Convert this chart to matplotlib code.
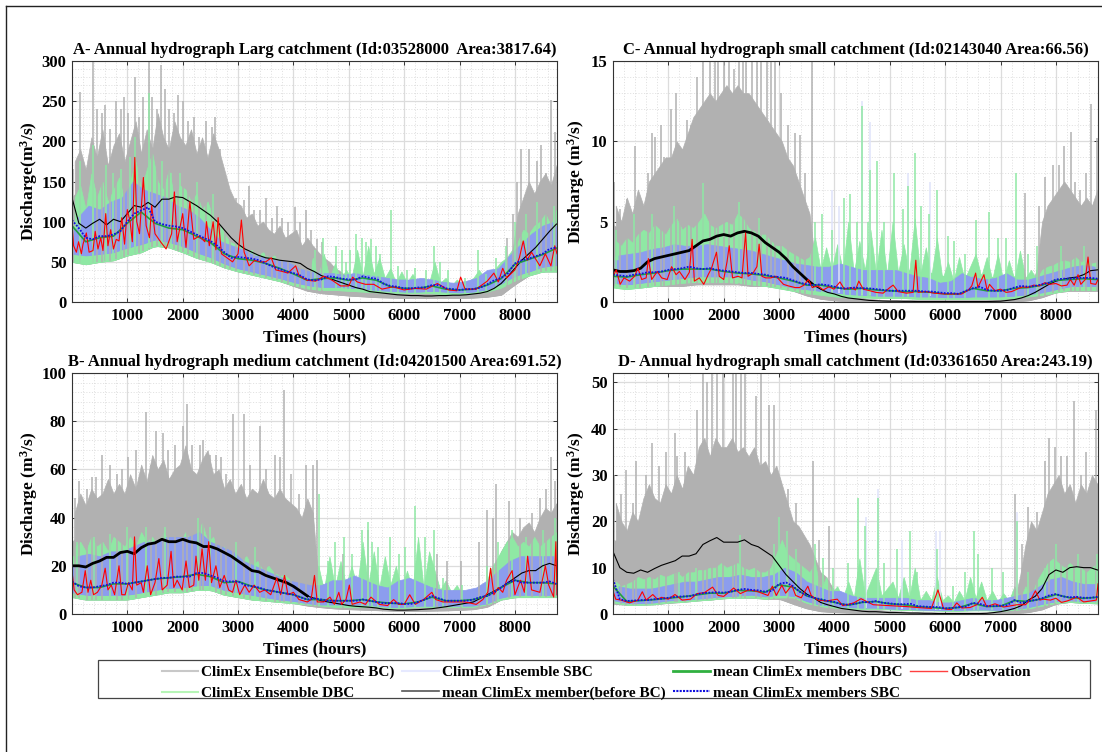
import matplotlib
matplotlib.use("Agg")
import matplotlib.pyplot as plt
from matplotlib.lines import Line2D
from matplotlib.patches import Rectangle
from matplotlib.ticker import MultipleLocator
import numpy as np

plt.rcParams["font.family"] = ["Liberation Serif", "DejaVu Serif"]
plt.rcParams["font.weight"] = "bold"
plt.rcParams["mathtext.fontset"] = "custom"
plt.rcParams["mathtext.rm"] = "Liberation Serif:bold"
plt.rcParams["mathtext.bf"] = "Liberation Serif:bold"
plt.rcParams["mathtext.default"] = "bf"

# envelopes are read every 250 h, mean lines every 125 h
band_hours = np.arange(0, 8751, 250)
mean_hours = np.arange(0, 8751, 125)
# rough upper edge of the ensembles, read every 100 h (gray, green) and 200 h (blue)
rough_hours = np.arange(50, 8751, 100)
blue_rough_hours = np.arange(100, 8701, 200)

# ---------- panel A
a_gray_top = [130,150,150,150,160,170,170,160,165,160,150,110,90,75,70,62,60,52,35,28,22,18,16,14,12,11,11,11,11,12,14,20,50,95,105,120]
a_gray_low = [50,47,50,52,58,62,70,68,62,55,50,43,38,34,30,26,20,14,11,9.5,8,7,6,5.5,5,5,5,5,5,5.5,6.5,9,22,33,38,38]
a_green_top = [85,105,110,105,120,135,120,110,110,98,80,68,58,54,50,46,40,33,30,28,26,28,26,25,24,24,24,22,22,22,26,36,60,75,85,98]
a_green_low = [50,47,50,52,58,62,70,68,62,55,50,43,38,34,30,26,21,17,15,15,14,13,12,12,11,11,11,10,10,11,13,18,27,33,38,38]
a_blue_top = [90,95,105,100,118,140,120,110,105,95,85,68,58,52,48,45,38,32,30,30,28,28,26,24,22,22,24,22,20,22,25,35,52,70,82,95]
a_blue_low = [60,58,60,62,68,72,78,75,70,62,56,48,42,38,34,30,25,21,19,19,18,17,15,14,13,13,14,13,12,13,16,23,33,38,44,46]
a_gray_rough = [175,190,165,205,180,215,170,195,210,175, 200,225,185,215,190,235,205,190,225,205, 195,215,185,205,180,210,190,165,140,125,
                120,105,110,95,100,90,85,95,80,85, 90,70,80,70,62,55,50,42,38,32, 28,25,22,20,18,16,14,14,13,12,
                12,12,11,11,11,11,11,11,11,11, 11,11,12,13,14,16,18,22,32,60, 110,130,150,135,150,160,145,170]
a_green_rough = [130,145,115,160,130,150,125,140,155,125, 150,175,140,165,185,150,140,165,130,145, 140,125,135,115,125,105,100,85,75,72,
                 68,62,65,58,62,55,58,52,50,48, 30,42,28,55,32,60,30,48,28,40, 30,65,32,70,35,55,30,42,24,38,
                 24,35,22,30,24,50,24,30,20,28, 22,25,30,40,30,35,42,50,55,65, 75,90,85,95,100,110,95,115]
a_blue_rough = [105,120,115,125,130,150,140,135,130,120,115,105,90,75,70,65, 58,55,52,50,42,38,36,36,34,36,34,32,30,28,28,30,28,25,24,26,30,40, 42,58,72,85,95,100]
a_gray_spike_h = [20,150,380,450,540,600,690,790,880,940,1020,1130,1210,1290,1390,1450,1540,1610,1680,1760,1850,1920,2010,2090,2200,2300,2430,2530,2590,2680,2770,2850,2960,3100,3200,3290,3390,3500,3610,3700,3800,3900,4030,4120,4230,4310,4420,4520,7860,7960,8040,8110,8250,8400,8480,8570,8650,8730]
a_gray_spike_q = [165,262,300,240,235,245,215,250,240,255,235,280,230,255,300,255,240,295,265,240,235,258,250,225,230,205,225,218,230,190,150,135,130,127,145,115,115,130,105,120,105,100,118,100,115,90,78,75,80,110,150,190,190,175,195,160,252,212]
a_green_spike_h = [150,380,620,750,890,1050,1130,1400,1620,1780,1950,2250,2540,4390,4540,4760,4870,4950,5020,5130,5230,5310,5400,5500,5570,5760,5880,6050,6200,6400,6540,6650,6800,7100,7330,7470,7650,7830,8000,8200,8400,8700]
a_green_spike_q = [175,195,170,160,165,180,205,260,175,160,160,150,135,65,80,70,65,50,65,85,80,75,78,70,60,115,45,40,42,40,70,50,40,30,65,35,55,70,100,110,125,120]
a_black = [130,98,92,98,103,96,103,100,110,120,118,124,118,128,128,131,130,125,120,114,108,100,90,80,72,66,62,58,55,54,52,51,50,48,42,38,33,30,27,24,21,18,16,13,12,11,10,9,8.5,8,8,7.5,7.5,8,8,8.5,8.5,9,10,11,13,17,23,32,42,52,60,68,78,88,97]
a_sbc = [102,92,80,78,82,82,84,88,100,110,114,118,100,97,95,94,92,88,84,80,76,70,62,55,56,55,54,52,48,44,41,38,36,33,28,27,28,32,31,29,28,28,32,30,29,23,20,19,17,17,18,18,21,21,17,16,15,16,16,18,22,27,30,36,48,52,54,57,60,66,68]
a_dbc = [95,75,80,82,98,112,98,92,90,82,74,60,54,52,48,42,35,27,29,30,27,30,27,19,17,17,20,16,15,16,21,29,47,53,59,67]
a_obs_h = [0,30,80,120,170,200,260,310,380,420,470,520,560,610,650,700,750,800,850,900,950,1000,1050,1090,1135,1170,1220,1290,1340,1400,1440,1500,1600,1700,1800,1850,1900,2000,2060,2130,2200,2300,2400,2430,2480,2550,2600,2640,2700,2800,2900,3000,3060,3110,3200,3300,3400,3500,3600,3680,3800,3900,4040,4100,4250,4400,4550,4700,4850,5000,5070,5150,5300,5450,5600,5800,6000,6200,6400,6600,6800,6950,7020,7100,7300,7500,7620,7700,7780,7850,8000,8080,8150,8220,8300,8450,8550,8650,8720,8760]
a_obs_q = [97,70,62,75,60,72,86,62,64,88,66,80,64,110,70,90,66,78,76,105,72,115,100,75,180,100,85,155,95,80,120,85,75,66,85,137,75,110,68,125,78,82,75,100,70,100,65,105,60,55,50,60,102,62,45,52,50,50,55,40,38,36,45,33,27,26,32,27,20,20,31,25,22,22,16,19,15,17,16,23,15,14,31,16,16,26,36,25,42,30,40,55,76,52,62,45,60,45,70,60]

# ---------- panel B
b_gray_top = [30,35,35,38,40,44,46,48,48,48,46,42,38,35,33,32,29,25,8,5,4,4,3,3,3,3,3,3,4,4,5,8,16,24,28,32]
b_gray_low = [7,6,6,6,6,7,8,9,9,10,10,8,7,6,5.5,5,4.5,3.5,2.8,2.3,2,1.8,1.6,1.4,1.3,1.3,1.4,1.5,1.7,2,3,6,7,7,7,7]
b_green_top = [24,24,24,24,24,26,26,26,26,27,24,22,19,17,15,14,12,10,10,11,11,12,12,10,10,12,11,8,8,8,10,16,24,24,24,24]
b_green_low = [7,6,6,6,6,7,8,9,9,10,10,8,7,6,5.5,5,4.5,4,3.5,3,3,3,3,2.5,2.5,3,3,3,3,3,4,6,7,7,7,7]
b_blue_top = [20,20,20,20,22,24,26,28,28,28,25,22,19,16,14,12,11,9,9,9,9,11,10,9,8,10,11,8,8,8,10,15,20,20,20,20]
b_blue_low = [9,8,8,8,8,9,10,11,11,12,12,10,9,8,7,6,5.5,4.5,4,4,4,4,3.5,3,3,3.5,3.5,3.5,3.5,3.5,4.5,7,8,8,8,8]
b_gray_rough = [42,50,45,52,48,50,56,50,54,50, 58,52,62,55,66,60,64,56,60,62, 70,60,58,64,68,58,60,52,56,50,
                54,48,52,50,56,50,48,52,48,46, 44,40,48,42,14,12,14,10,9,8, 8,10,12,10,7,8,6,7,5,6,
                5,6,5,8,7,5,6,5,5,5, 6,5,6,8,10,14,20,26,30,34, 32,36,38,34,40,44,42,46]
b_green_rough = [28,30,26,32,28,30,26,32,30,28, 32,28,34,30,32,28,34,30,32,30, 34,30,32,38,30,32,26,28,24,22,
                 22,24,20,22,18,20,17,16,16,14, 12,10,12,9,20,10,24,11,22,12, 20,11,30,12,26,11,24,12,20,10,
                 18,10,32,11,26,18,10,14,9,12, 8,10,8,12,10,18,22,26,30,32, 28,30,28,32,28,30,32,34]
b_blue_rough = [24,25,24,26,26,28,30,30,32,32,32,34,30,28,26,22, 20,18,16,14,13,12,12,14,14,16,14,12,11,14,15,13,11,10,10,10,11,14, 18,22,24,24,24,24]
b_gray_spike_h = [60,130,270,370,440,550,680,810,900,1010,1160,1330,1420,1520,1650,1740,1870,2010,2070,2170,2310,2370,2490,2600,2700,2780,2910,3100,3210,3400,3500,3660,3760,3830,3950,4100,4230,4350,4430,4900,5340,6600,6770,7030,7360,7490,7610,7660,7900,8100,8300,8450,8560,8660,8730]
b_gray_spike_q = [48,55,52,57,57,66,62,58,60,65,68,84,62,76,75,68,70,78,87,70,70,72,66,66,65,58,83,83,62,78,60,66,65,93,58,50,62,62,64,25,35,25,22,22,30,43,40,54,47,40,42,48,52,65,55]
b_green_spike_h = [100,400,680,1000,1340,1680,2280,2500,2960,3300,4460,4620,4750,4910,5060,5240,5340,5420,5520,5740,5900,6020,6200,6370,6530,6700,7050,7500,7700,7950,8200,8500,8720]
b_green_spike_q = [30,32,33,36,36,36,40,36,30,28,50,22,30,32,25,35,38,30,28,32,25,28,45,32,35,15,12,20,30,35,32,35,40]
b_black = [20,20,19.5,21,22,23.5,23.5,25.5,26,25,27.5,29,29.5,31,30,30,31,30,29.5,28,28,27,25.5,24,22,20,18,17.5,16,15,14,13,11.5,9.5,7.5,6.5,5.5,5,4.5,4,3.5,3.2,3,2.8,2.5,2,1.8,1.6,1.6,1.7,1.8,2,2.2,2.6,3,3.5,4,4.5,5,6.5,8,9.5,11,13,15,17,18,18,20,21,20]
b_sbc = [13.5,11.5,11,11,11.5,12,13,13,12.5,13,13.5,14,14.5,15,15,15.5,15.5,15.5,17,17,16,15,13.5,13.5,13.5,12,11.5,11,10,9.5,9,8.5,8,7,6,6.5,6,5.5,5.5,5.5,5.5,5.5,6,5.5,5,4.5,4.5,4.5,4.2,4.2,5,6,7.5,6.5,5.5,5.5,5.5,5.5,6,7,7.5,9,11,13,14,13,13,13,13,13.5,12.5]
b_dbc = [13,11,11,12.5,12.5,13.5,14.5,15,15.5,16.5,15.5,13,13.5,11.5,10,9,8,6,6,5.5,5.5,6,5,4.5,4.2,5,7,5.5,5.5,6,7.5,11,14,13,13,12.5]
b_obs_h = [0,40,100,180,240,290,340,390,460,540,600,650,710,770,850,900,960,1020,1090,1130,1170,1250,1290,1360,1400,1420,1500,1570,1630,1720,1790,1840,1900,1990,2060,2120,2200,2240,2290,2350,2410,2470,2520,2600,2670,2750,2830,2900,2960,3030,3120,3200,3290,3390,3480,3590,3700,3770,3840,3900,4000,4100,4250,4320,4380,4430,4550,4660,4740,4820,4870,4950,5010,5060,5200,5300,5400,5550,5700,5810,5900,6000,6100,6200,6350,6500,6570,6700,6900,7100,7300,7420,7510,7560,7620,7700,7780,7850,7950,8000,8100,8170,8230,8300,8450,8550,8610,8700,8740,8760]
b_obs_q = [18,10,8,9,18,9,14,8,9,12,19,10,12,8,20,8,8,13,10,32,12,13,9,20,12,8,13,23,10,12,26,11,14,10,22,11,12,24,14,27,14,30,13,20,11,16,10,9,14,8,12,9,12,9,10,8,15,8,16,8,9,6,5,6,16,5,5,7,4,9,4,6,12,4,5,4,7,4,3.5,6,4,4,8,4,6,9,6,5,5,5,4,6,9,19,8,11,9,14,18,8,14,9,24,10,9,20,12,7,30,8]

# ---------- panel C
c_gray_top = [4.8,4.2,5,6,6.5,6.8,7.5,9.5,10,10.5,10,8.5,7.5,6,4.2,1,.6,.4,.25,.15,.1,.1,.1,.1,.1,.1,.1,.1,.1,.2,.3,1.5,4,4.5,4.5,5]
c_gray_low = [1,.9,.9,1,1,1,1.1,1.1,1.1,1.1,1,1,.9,.7,.4,.2,.1,.05,.03,.02,0,0,0,0,0,0,0,0,0,.05,.1,.3,.6,.7,.7,.7]
c_green_top = [2.8,3,3.2,3.4,3.6,3.8,3.8,3.7,3.7,3.9,3.6,3.2,2.9,2.6,2.4,2.2,2,1.9,1.9,2,2,2,1.9,1.8,1.6,1.3,1.9,1.6,1.5,1.6,1.5,1.4,1.9,2.1,2,1.9]
c_green_low = [.9,.8,.9,1,1.1,1.2,1.25,1.25,1.25,1.2,1.1,1,.85,.7,.55,.45,.35,.3,.3,.25,.25,.25,.2,.2,.2,.2,.2,.2,.2,.25,.35,.45,.6,.75,.75,.75]
c_blue_top = [2.6,2.6,2.8,3,3.1,3.2,3.2,3.1,3.1,3.3,3,2.7,2.5,2.2,1.8,2.1,1.7,1.6,1.5,1.5,1.5,1.5,1.3,1.2,1.1,1,1.6,1.3,1.2,1.3,1.3,1.3,1.7,2,2.1,2]
c_blue_low = [1.2,1.1,1.2,1.3,1.4,1.5,1.6,1.6,1.6,1.6,1.4,1.3,1.1,.9,.8,.7,.6,.5,.45,.4,.4,.4,.35,.35,.3,.3,.35,.35,.35,.4,.5,.6,.8,1,1,1]
c_gray_rough = [6,5,6.5,5.5,7,6,7.5,8,8.5,9, 9,10,9.5,10.5,11.5,12,12.5,13,12.5,13, 13.5,13,13.5,13,13,12.5,12,11.5,11,10.5,
                10,9,8.5,7.5,6.5,5.5,2.5,1.2,.8,.7, .5,.4,.35,.3,.25,.2,.15,.15,.1,.1, .1,.1,.1,.1,.1,.1,.1,.1,.1,.1,
                .1,.1,.1,.1,.1,.1,.1,.1,.1,.15, .2,.25,.3,.4,.6,.9,2,5,6,6.5, 7,7.5,7,6.5,6,6.5,6,7]
c_green_rough = [3.8,3.5,4,3.7,4.2,4.5,4.3,4.8,4.5,4.2, 4.8,5.2,4.5,4.8,4.6,5,5.5,4.8,4.6,4.8, 5,4.8,5.5,5.2,4.6,4.4,4.2,4.2,3.8,3.5,
                 3.5,3.2,3,2.8,2.6,2.8,4,2,3.4,2, 3.6,2,5,1.8,3.8,2,4.5,1.8,4.5,1.7, 5,1.8,3.6,1.8,5.2,1.7,3.4,1.6,4,1.4,
                 2.5,1.3,2.8,1.4,2.2,3,1.6,2.8,1.4,3, 1.3,2.6,1.4,3.2,1.5,2,1.4,2,2.2,2.3, 2.5,2.6,2.5,2.8,2.5,2.6,2.4,2.5]
c_blue_rough = [2.9,3,3.1,3.3,3.4,3.6,3.5,3.5,3.6,3.5,3.4,3.3,3.2,3,2.8,2.6, 2.4,2.3,2.2,2.2,2.4,2.2,2,2,2,2,1.8,1.6,1.5,1.2,1.3,1.8,1.5,1.4,1.5,1.8,1.4,1.4, 1.6,1.8,2,2.2,2.3,2.2]
c_gray_spike_h = [20,120,260,390,480,640,700,760,860,930,1040,1130,1210,1330,1410,1510,1630,1760,1850,1900,2010,2090,2180,2270,2350,2410,2520,2610,2680,2780,2860,2930,3030,3170,3280,3380,3470,3600,7450,7700,7800,7950,8060,8150,8270,8350,8430,8550,8640,8740]
c_gray_spike_q = [7.5,5.8,6.4,9.7,5.4,8,10.5,10.3,11,9,12,13,9.5,11.3,11,14,15,15,15,15,15,15,14.5,15,15,15,15,15,15,15,15,15,13,11,10.5,10.4,8,15,6.8,6,7.8,8.5,8.5,9.7,10.6,7.5,7,8,12.3,10.2]
c_green_spike_h = [50,380,700,1100,1620,2280,2640,3650,3780,3950,4170,4290,4400,4500,4600,4640,4760,4900,5080,5240,5330,5460,5560,5700,5860,6050,6160,6350,6550,6800,6950,7100,7280,7500,7650,8100,8500]
c_green_spike_q = [4.5,5.5,5.5,6,7.4,6.2,5.2,5,5.5,4.5,6.5,6.7,5,12.2,5,8.2,8.8,5,8,5.8,7.2,9.3,6,5.5,7,4.1,3.8,3,5.1,5.6,4,4,8,3,3.5,3.5,3.5]
c_sbc_spike_h = [3950,4090,4500,4640,5330,5730]
c_sbc_spike_q = [7,6,12.5,11.2,8,7.5]
c_black = [2,1.9,1.9,1.95,2.1,2.5,2.7,2.8,2.9,3,3.1,3.2,3.5,3.8,3.9,4.1,4.2,4.1,4.3,4.4,4.3,4.1,3.7,3.4,3.1,2.7,2.2,1.8,1.4,1.05,.8,.6,.5,.35,.25,.2,.15,.1,.08,.06,.05,.05,.04,.04,.03,.03,.03,.03,.03,.03,.03,.03,.03,.03,.03,.04,.05,.1,.15,.25,.4,.6,.85,1.1,1.3,1.4,1.5,1.55,1.7,1.95,2]
c_sbc = [1.7,1.65,1.6,1.7,1.75,1.85,1.85,1.9,2,2.05,2.1,2.2,2.1,2.05,2.1,2,1.95,1.9,1.85,1.8,1.8,1.75,1.7,1.6,1.55,1.5,1.35,1.2,1.1,1.05,1.1,1.05,.95,.85,.85,.9,.85,.85,.8,.75,.7,.7,.7,.7,.7,.65,.65,.6,.55,.55,.5,.7,.85,.95,.75,.7,.7,.75,.9,1,.95,1,1.1,1.2,1.4,1.45,1.45,1.5,1.5,1.5,1.45]
c_dbc = [1.6,1.55,1.7,1.8,1.95,2.05,2.05,2.05,1.9,1.8,1.75,1.65,1.5,1.3,1.05,1.05,.9,.8,.85,.75,.7,.65,.65,.6,.5,.5,.85,.7,.7,.85,.9,1.05,1.35,1.4,1.45,1.4]
c_obs_h = [0,60,130,200,300,390,450,520,600,640,700,800,880,980,1060,1140,1200,1300,1380,1430,1470,1560,1640,1720,1780,1870,1920,2000,2060,2100,2160,2260,2330,2395,2440,2530,2600,2640,2690,2760,2850,2950,3000,3080,3170,3290,3370,3450,3530,3600,3700,3800,3900,3990,4100,4180,4300,4380,4440,4520,4640,4750,4880,5000,5060,5150,5300,5420,5470,5510,5650,5800,6000,6150,6300,6420,6480,6550,6590,6700,6760,6800,6900,7000,7100,7200,7300,7400,7480,7600,7700,7800,7880,8000,8100,8200,8260,8330,8400,8450,8530,8580,8630,8720,8760]
c_obs_q = [1.6,2,1.1,1.5,1.3,1.6,2.1,1.4,1.5,2.7,1.4,1.9,1.5,1.4,2.2,1.7,1.9,1.4,1.85,3.9,1.3,1.5,1.1,1.7,2.1,3.1,1.6,1.4,2.5,3.5,1.5,1.6,1.5,4.3,1.6,1.8,2.2,3.6,1.6,1.5,1.5,1.6,1.4,1.1,1,.9,.9,1.05,1.4,.9,1,.75,.95,.8,1.25,.8,.9,.75,1.3,.8,.7,.6,.55,.9,1.05,.65,.55,.6,2.6,.6,.65,.55,.5,.5,.5,.75,1,1.8,.9,1.7,.7,1.1,.7,.8,.6,.65,.8,.95,.9,1.05,1,1.2,1.1,1.15,1,1.05,1.4,1.05,1.7,1.1,1.4,2.8,1.15,1.1,1.4]

# ---------- panel D
d_gray_top = [16,15,15,17,18,20,23,25,26,26,25,23,19,14,10,4,2.5,1.3,1,.8,.6,.5,.4,.3,.3,.3,.3,.3,.4,1,11,15,21,19,17,19]
d_gray_low = [2.2,2,2,2.1,2.4,2.6,2.9,3.1,3.4,3.5,3.5,3.3,3.3,2.2,1.2,.6,.4,.3,.2,.2,.1,.1,.1,.1,.1,.1,.1,.1,.1,.2,.4,1,2.2,2.6,2.4,2.3]
d_green_top = [5,4.6,4.6,5,5.4,5.8,6.2,6.6,7,7,7,6.6,9,7.5,5,4.2,4,3.4,3.4,3.8,3.2,3.2,3.2,3.2,2.6,2.6,3.2,2.6,2.6,3,3.4,4.6,6.5,7,6.5,7]
d_green_low = [2.5,2,2,2.1,2.5,2.6,2.9,3.1,3.4,3.5,3.6,3.3,3.6,3.6,2.4,1.7,1.4,1.2,1.1,1.1,1,.9,.8,.8,.7,.7,.8,.8,.7,.9,1.2,1.8,2.4,2.6,2.4,2.3]
d_blue_top = [5,4.4,4.5,4.6,5,5.5,6,6.2,6.5,7,7,6.8,8.5,7.5,5,4,4,3,3,3,3,3,2.5,2.5,2.2,2,2.5,2.5,2.2,2.5,3,4,6,6.5,5.5,5.5]
d_blue_low = [3,2.4,2.4,2.5,3,3,3.3,3.6,3.8,4,4.2,3.8,4.2,4,2.8,2,1.8,1.5,1.4,1.4,1.2,1.1,1,.9,.9,.9,1,1,.9,1.1,1.5,2.2,2.8,3,2.8,2.8]
d_gray_rough = [24,20,18,22,20,25,28,25,24,28, 26,30,27,32,30,36,38,34,38,36, 36,38,35,36,34,36,32,33,30,32,
                28,24,20,19,17,15,12,9,8,6, 4,3.5,2.5,2,1.5,1.2,1,.9,.8,.7, .6,.5,.5,.4,.4,.3,.3,.3,.3,.3,
                .3,.3,.3,.3,.3,.3,.3,.3,.3,.4, .6,1,3,8,15,20,18,22,26,28, 30,26,28,24,28,26,30,28]
d_green_rough = [7,6,6.5,7,8,7.5,8,7.5,8.5,8, 8.5,9,8,9,9,9.5,9.5,10,10,11, 10,10.5,11,10,9.5,10,9,9,10,13,
                 16,13,12,11,10,9,11,5,8,4.5, 6,3.5,7,3.5,12,4,7,10,4,5.5, 7,3.5,8,3.5,10,3,5,3,8,3,
                 4,2.5,5,3,8,3.5,7,3,5,2.7, 4.5,2.8,6,3.2,6,3.5,7,9,11,12, 11,10,11,10,10,9,10,11]
d_blue_rough = [6,5.5,5.5,5.5,6,6.5,7,7,7.5,8,8,8.5,8,8,8.5,10, 9,7,6,5,5,4,3.5,3.5,3.5,3.5,3.5,3,3,2.5,2.5,3,3.5,3,3,3.5,4,4.5, 6,7.5,8,7,6.5,6.5]
d_gray_spike_h = [20,150,230,370,420,600,700,830,950,1120,1160,1300,1400,1510,1620,1700,1790,1880,1990,2170,2230,2320,2390,2580,2670,2810,2910,3170,3300,3400,3620,3730,3900,7260,7380,7500,7650,7800,7880,7980,8100,8200,8330,8450,8550,8720]
d_gray_spike_q = [30,26,31,24,33,30,37,32,35,39,34,35,31,44,52,50,52,52,52,52,52,52,52,47,52,45,45,27,24,15,33,16,19,26,15,23,22,33,38,36,34,34,46,30,35,44]
d_green_spike_h = [1200,1500,2300,2900,3000,3150,3300,3650,3800,3980,4250,4420,4550,4780,4900,5130,5370,5500,5850,6150,6350,6520,6600,6850,7050,7290,7500,7800,8000,8400,8750]
d_green_spike_q = [9,10,17,15,21,18,14,15,12,10,11,25,19,25,11,14,18,9,14,6,9,18,13,10,9,20,9,10,15,13,13]
d_sbc_spike_h = [4570,4780,5220,5830,5900,7290]
d_sbc_spike_q = [21,27,16,18,18,22]
d_black = [13.5,10,9,8.8,9.5,9,9.8,10.5,11,11.5,12.5,12.5,13,15,15.8,16.5,15.5,15.5,15.5,16,15,14.5,13.5,12.5,10.5,8.5,7,5.5,4.3,3.5,2.5,2,1.6,1.2,1,.8,.6,.5,.5,.4,.3,.3,.25,.2,.2,.15,.15,.1,.1,.1,.1,.1,.1,.1,.15,.3,.5,.8,1.2,1.8,3,3.8,5.5,8.5,9.5,9,10,10.2,10,10,9.5]
d_sbc = [7.5,3.2,2.8,2.9,3,3,3.2,3.3,3.5,3.7,3.8,3.8,4.2,4.5,4.6,4.7,4.6,4.8,5.2,5.4,5.2,5.1,4.8,5,6.5,6.8,6,4.8,4,3.5,3.2,2.8,2.6,2.1,2,2.2,2.6,2.5,2.8,2.4,2.3,2.1,2.1,2.2,1.7,1.6,1.5,1.5,1.2,1.3,1.5,1.6,2.4,2.2,1.7,1.7,1.8,1.9,3,2.4,2.8,3,3.4,4,4.3,3.8,3.6,3.7,3.5,3.5,3.7]
d_dbc = [6,2.7,2.9,3.1,3.4,3.7,4.1,4.5,4.5,5.1,5,4.7,6.3,5.8,3.9,3.1,2.5,1.9,2.5,2.7,2.2,2,1.6,1.4,1.2,1.4,2.3,1.6,1.7,2.9,2.7,3.3,4.2,3.5,3.4,3.6]
d_obs_h = [0,50,150,300,450,530,600,720,800,880,1000,1120,1250,1400,1520,1650,1800,1900,2000,2180,2300,2450,2600,2800,2880,2950,3050,3120,3230,3300,3400,3520,3580,3700,3850,4050,4150,4350,4480,4700,5000,5300,5500,5750,5870,5970,6050,6120,6210,6300,6450,6570,6670,6750,6900,7050,7200,7300,7450,7550,7630,7710,7770,7900,8000,8100,8200,8290,8370,8500,8620,8730,8760]
d_obs_q = [5,3.2,3,2.4,3,4.8,3,4.2,3.2,3.6,3.2,4.2,3,3.2,4.4,4.6,5.8,4,3.8,5.6,4.4,5.2,4.9,4,6,4,6.2,4.5,6.2,4,3.5,6,4,3,2.8,3.2,1.8,2.4,3.3,2,1.8,1.6,1.4,1.2,5.2,1.2,1,1,2.4,1.3,1.4,2,3.6,1.6,2.2,1.5,1.8,2,2,3.2,5,3,3.2,3,3.4,2.5,2.8,3.2,3.7,2.6,2.8,3,6.5]

titles = ["A- Annual hydrograph Larg catchment (Id:03528000  Area:3817.64)",
          "B- Annual hydrograph medium catchment (Id:04201500 Area:691.52)",
          "C- Annual hydrograph small catchment (Id:02143040 Area:66.56)",
          "D- Annual hydrograph small catchment (Id:03361650 Area:243.19)"]

GRAY = "#b1b1b1"
GREEN = "#8fe8a4"
LAV = "#dfe3fb"
BLUE = "#8c9dee"
W, H = 1102, 752

fig = plt.figure(figsize=(W / 100, H / 100), dpi=100)


def panel(box, title, ylabel, label_x, ymax, ystep, yminor, gray, green, blue, gs, grs, ss, rough, black, thick_until, sbc, dbc, obs):
    x0, y0, x1, y1 = box
    ax = fig.add_axes([x0 / W, 1 - y1 / H, (x1 - x0) / W, (y1 - y0) / H])
    # solid part of each ensemble, then the jagged edge, then the tallest spikes
    ax.fill_between(band_hours, gray[1], gray[0], color=GRAY, lw=0.6)
    ax.fill_between(rough_hours, np.interp(rough_hours, band_hours, gray[1]), rough[0], color=GRAY, lw=0.5)
    ax.vlines(gs[0], np.interp(gs[0], band_hours, gray[1]), gs[1], color=GRAY, lw=1.1)
    ax.vlines(ss[0], np.interp(ss[0], band_hours, blue[1]), ss[1], color=LAV, lw=1.1)
    ax.fill_between(band_hours, green[1], green[0], color=GREEN, lw=0.6)
    ax.fill_between(rough_hours, np.interp(rough_hours, band_hours, green[1]), rough[1], color=GREEN, lw=0.5)
    ax.vlines(grs[0], np.interp(grs[0], band_hours, green[1]), grs[1], color=GREEN, lw=1.1)
    ax.fill_between(band_hours, blue[1], blue[0], color=BLUE, lw=0.6)
    ax.fill_between(blue_rough_hours, np.interp(blue_rough_hours, band_hours, blue[1]), rough[2], color=BLUE, lw=0.5)
    ax.plot(mean_hours, black, color="black", lw=0.8)
    keep = mean_hours <= thick_until
    if keep.any():
        ax.plot(mean_hours[keep], np.array(black)[keep], color="black", lw=2)
    ax.plot(band_hours, dbc, color="#20a040", lw=1.2)
    ax.plot(obs[0], obs[1], color="red", lw=0.8)
    ax.plot(mean_hours, sbc, color="#1010e0", lw=1.3, ls=(0, (1, 0.8)))

    ax.set_xlim(1, 8760)
    ax.set_ylim(0, ymax)
    ax.set_xticks(range(1000, 8001, 1000))
    ax.set_yticks(np.arange(0, ymax + 0.01, ystep))
    ax.xaxis.set_minor_locator(MultipleLocator(200))
    ax.yaxis.set_minor_locator(MultipleLocator(yminor))
    ax.grid(True, which="major", color="#dcdcdc", lw=0.9)
    ax.grid(True, which="minor", color="#d4d4d4", lw=0.5, ls=(0, (1.5, 2.5)))
    ax.set_axisbelow(True)
    ax.tick_params(which="major", direction="in", top=True, right=True, length=3, width=0.7, labelsize=12, pad=4, color="#333333")
    ax.tick_params(which="minor", length=0)
    for s in ax.spines.values():
        s.set_color("#333333")
        s.set_linewidth(0.8)
    ax.set_title(title, fontsize=12, fontweight="bold", pad=5)
    ax.set_xlabel("Times (hours)", fontsize=12.5, fontweight="bold", labelpad=4)
    ax.set_ylabel(ylabel, fontsize=12.5, fontweight="bold")
    ax.yaxis.set_label_coords(label_x, 0.5)
    return ax


panel((72, 61, 557, 302), titles[0], "Discharge(m$^3$/s)", -32 / 485, 300, 50, 10,
      (a_gray_top, a_gray_low), (a_green_top, a_green_low), (a_blue_top, a_blue_low),
      (a_gray_spike_h, a_gray_spike_q), (a_green_spike_h, a_green_spike_q), ([], []),
      (a_gray_rough, a_green_rough, a_blue_rough),
      a_black, -1, a_sbc, a_dbc, (a_obs_h, a_obs_q))
panel((72, 373, 557, 614), titles[1], "Discharge (m$^3$/s)", -32 / 485, 100, 20, 4,
      (b_gray_top, b_gray_low), (b_green_top, b_green_low), (b_blue_top, b_blue_low),
      (b_gray_spike_h, b_gray_spike_q), (b_green_spike_h, b_green_spike_q), ([], []),
      (b_gray_rough, b_green_rough, b_blue_rough),
      b_black, 4250, b_sbc, b_dbc, (b_obs_h, b_obs_q))
panel((613, 61, 1098, 302), titles[2], "Discharge (m$^3$/s)", -26 / 485, 15, 5, 1,
      (c_gray_top, c_gray_low), (c_green_top, c_green_low), (c_blue_top, c_blue_low),
      (c_gray_spike_h, c_gray_spike_q), (c_green_spike_h, c_green_spike_q), (c_sbc_spike_h, c_sbc_spike_q),
      (c_gray_rough, c_green_rough, c_blue_rough),
      c_black, 3625, c_sbc, c_dbc, (c_obs_h, c_obs_q))
panel((613, 373, 1098, 614), titles[3], "Discharge (m$^3$/s)", -26 / 485, 52, 10, 2,
      (d_gray_top, d_gray_low), (d_green_top, d_green_low), (d_blue_top, d_blue_low),
      (d_gray_spike_h, d_gray_spike_q), (d_green_spike_h, d_green_spike_q), (d_sbc_spike_h, d_sbc_spike_q),
      (d_gray_rough, d_green_rough, d_blue_rough),
      d_black, -1, d_sbc, d_dbc, (d_obs_h, d_obs_q))

# outer frame, only top and left were kept in the figure
fig.add_artist(Line2D([6 / W, 6 / W], [0, 1 - 6 / H], color="#222222", lw=1))
fig.add_artist(Line2D([6 / W, 1], [1 - 6 / H, 1 - 6 / H], color="#222222", lw=1))

# legend box
fig.add_artist(Rectangle((98 / W, 1 - 698 / H), 992 / W, 38 / H, fill=False, ec="#444444", lw=0.9, transform=fig.transFigure))
handles = [Line2D([], [], color="#c8c8c8", lw=1.5), Line2D([], [], color="#b6f5b6", lw=1.5),
           Line2D([], [], color="#e6e9ff", lw=1.5), Line2D([], [], color="#555555", lw=1.2),
           Line2D([], [], color="#30b040", lw=2), Line2D([], [], color="#1010e0", lw=1.5, ls=(0, (1, 0.6))),
           Line2D([], [], color="#ff4040", lw=1)]
labels = ["ClimEx Ensemble(before BC)", "ClimEx Ensemble DBC", "ClimEx Ensemble SBC",
          "mean ClimEx member(before BC)", "mean ClimEx members DBC", "mean ClimEx members SBC", "Observation"]
fig.legend(handles, labels, ncols=4, frameon=False, fontsize=11, loc="upper left",
           bbox_to_anchor=(160 / W, 1 - 664 / H), borderaxespad=0, borderpad=0.1,
           handlelength=2.4, handletextpad=0.2, columnspacing=0.5, labelspacing=0.45)

fig.savefig("out.png", dpi=100)
